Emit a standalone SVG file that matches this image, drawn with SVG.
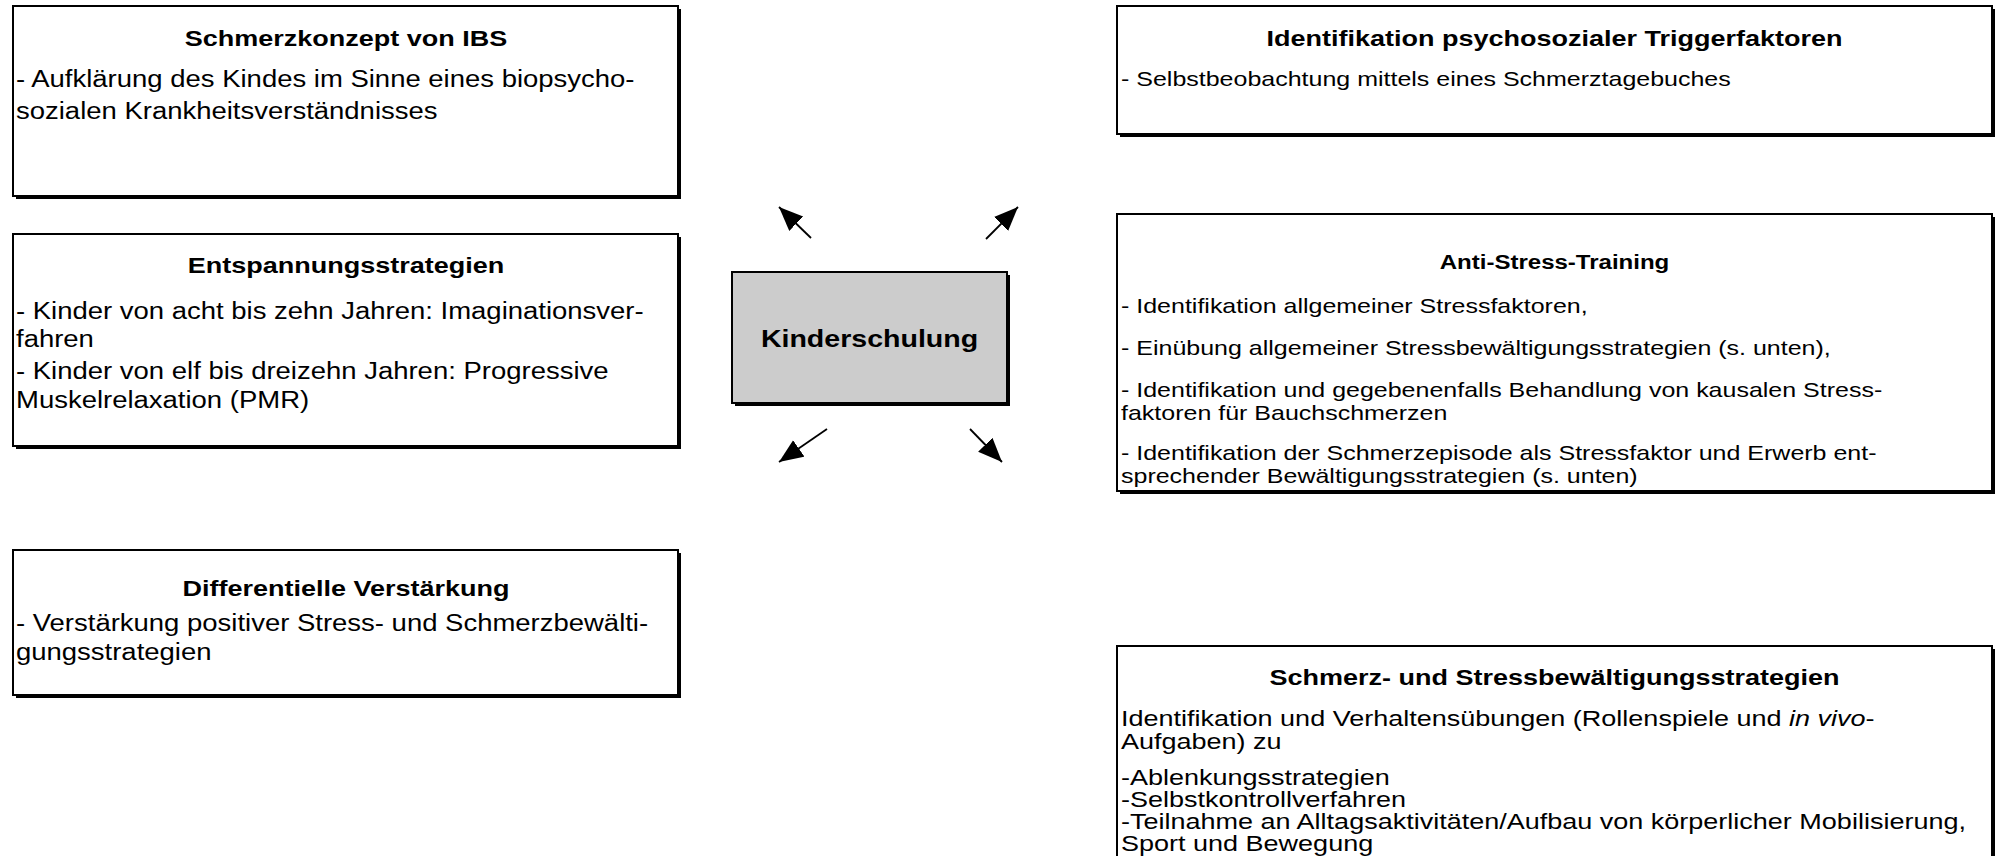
<svg xmlns="http://www.w3.org/2000/svg" width="2006" height="856" viewBox="0 0 2006 856">
<defs>
<marker id="ah" markerUnits="userSpaceOnUse" markerWidth="26" markerHeight="22" refX="24" refY="10" orient="auto" viewBox="0 0 26 22">
<path d="M0,0 L24,10 L0,20 Z" fill="#000"/>
</marker>
<style>
.sh{fill:#000}
.bx{fill:#fff;stroke:#000;stroke-width:2}
.cx{fill:#ccc;stroke:#000;stroke-width:2}
.tx{font-family:"Liberation Sans",Arial,sans-serif;fill:#000}
.l{font-size:23.1px}
.r{font-size:21px}
.s{font-size:22.7px}
.tt{font-weight:bold;text-anchor:middle;font-size:22.7px}
.kt{font-family:"Liberation Sans",Arial,sans-serif;font-size:24px;font-weight:bold;text-anchor:middle;fill:#000}
.ar{stroke:#000;stroke-width:1.8;fill:none;marker-end:url(#ah)}
</style>
</defs>
<rect width="2006" height="856" fill="#fff"/>

<g id="schmerzkonzept">
<rect class="sh" x="16" y="9" width="665" height="190"/>
<rect class="bx" x="13" y="6" width="665" height="190"/>
<g transform="translate(346,0) scale(1.19,1)"><text class="tx tt" x="0" y="46">Schmerzkonzept von IBS</text></g>
<g transform="translate(16,0) scale(1.19,1)">
<text class="tx l" x="0" y="87">- Aufklärung des Kindes im Sinne eines biopsycho-</text>
<text class="tx l" x="0" y="119">sozialen Krankheitsverständnisses</text>
</g>
</g>

<g id="identifikation">
<rect class="sh" x="1120" y="9" width="875" height="128"/>
<rect class="bx" x="1117" y="6" width="875" height="128"/>
<g transform="translate(1554.5,0) scale(1.19,1)"><text class="tx tt" x="0" y="46">Identifikation psychosozialer Triggerfaktoren</text></g>
<g transform="translate(1121,0) scale(1.19,1)">
<text class="tx r" x="0" y="86">- Selbstbeobachtung mittels eines Schmerztagebuches</text>
</g>
</g>

<g id="entspannung">
<rect class="sh" x="16" y="237" width="665" height="212"/>
<rect class="bx" x="13" y="234" width="665" height="212"/>
<g transform="translate(346,0) scale(1.19,1)"><text class="tx tt" x="0" y="273">Entspannungsstrategien</text></g>
<g transform="translate(16,0) scale(1.19,1)">
<text class="tx l" x="0" y="319">- Kinder von acht bis zehn Jahren: Imaginationsver-</text>
<text class="tx l" x="0" y="347">fahren</text>
<text class="tx l" x="0" y="379">- Kinder von elf bis dreizehn Jahren: Progressive</text>
<text class="tx l" x="0" y="408">Muskelrelaxation (PMR)</text>
</g>
</g>

<g id="kinderschulung">
<rect class="sh" x="735" y="275" width="275" height="131"/>
<rect class="cx" x="732" y="272" width="275" height="131"/>
<g transform="translate(869.5,0) scale(1.19,1)"><text class="kt" x="0" y="347">Kinderschulung</text></g>
</g>

<g id="antistress">
<rect class="sh" x="1120" y="217" width="875" height="277"/>
<rect class="bx" x="1117" y="214" width="875" height="277"/>
<g transform="translate(1554.5,0) scale(1.19,1)"><text class="tx tt" x="0" y="269" style="font-size:20.2px">Anti-Stress-Training</text></g>
<g transform="translate(1121,0) scale(1.19,1)">
<text class="tx r" x="0" y="313">- Identifikation allgemeiner Stressfaktoren,</text>
<text class="tx r" x="0" y="355">- Einübung allgemeiner Stressbewältigungsstrategien (s. unten),</text>
<text class="tx r" x="0" y="397">- Identifikation und gegebenenfalls Behandlung von kausalen Stress-</text>
<text class="tx r" x="0" y="420">faktoren für Bauchschmerzen</text>
<text class="tx r" x="0" y="460">- Identifikation der Schmerzepisode als Stressfaktor und Erwerb ent-</text>
<text class="tx r" x="0" y="483">sprechender Bewältigungsstrategien (s. unten)</text>
</g>
</g>

<g id="differentielle">
<rect class="sh" x="16" y="553" width="665" height="145"/>
<rect class="bx" x="13" y="550" width="665" height="145"/>
<g transform="translate(346,0) scale(1.19,1)"><text class="tx tt" x="0" y="596">Differentielle Verstärkung</text></g>
<g transform="translate(16,0) scale(1.19,1)">
<text class="tx l" x="0" y="631">- Verstärkung positiver Stress- und Schmerzbewälti-</text>
<text class="tx l" x="0" y="660">gungsstrategien</text>
</g>
</g>

<g id="bewaeltigung">
<rect class="sh" x="1120" y="649" width="875" height="230"/>
<rect class="bx" x="1117" y="646" width="875" height="230"/>
<g transform="translate(1554.5,0) scale(1.19,1)"><text class="tx tt" x="0" y="685">Schmerz- und Stressbewältigungsstrategien</text></g>
<g transform="translate(1121,0) scale(1.19,1)">
<text class="tx s" x="0" y="726">Identifikation und Verhaltensübungen (Rollenspiele und <tspan font-style="italic">in vivo</tspan>-</text>
<text class="tx s" x="0" y="749">Aufgaben) zu</text>
<text class="tx s" x="0" y="785">-Ablenkungsstrategien</text>
<text class="tx s" x="0" y="807">-Selbstkontrollverfahren</text>
<text class="tx s" x="0" y="829">-Teilnahme an Alltagsaktivitäten/Aufbau von körperlicher Mobilisierung,</text>
<text class="tx s" x="0" y="851">Sport und Bewegung</text>
</g>
</g>

<g id="connectors">
<line class="ar" x1="811" y1="238" x2="779" y2="207"/>
<line class="ar" x1="986" y1="239" x2="1018" y2="207"/>
<line class="ar" x1="827" y1="429" x2="779" y2="462"/>
<line class="ar" x1="970" y1="429" x2="1002" y2="462"/>
</g>
</svg>
